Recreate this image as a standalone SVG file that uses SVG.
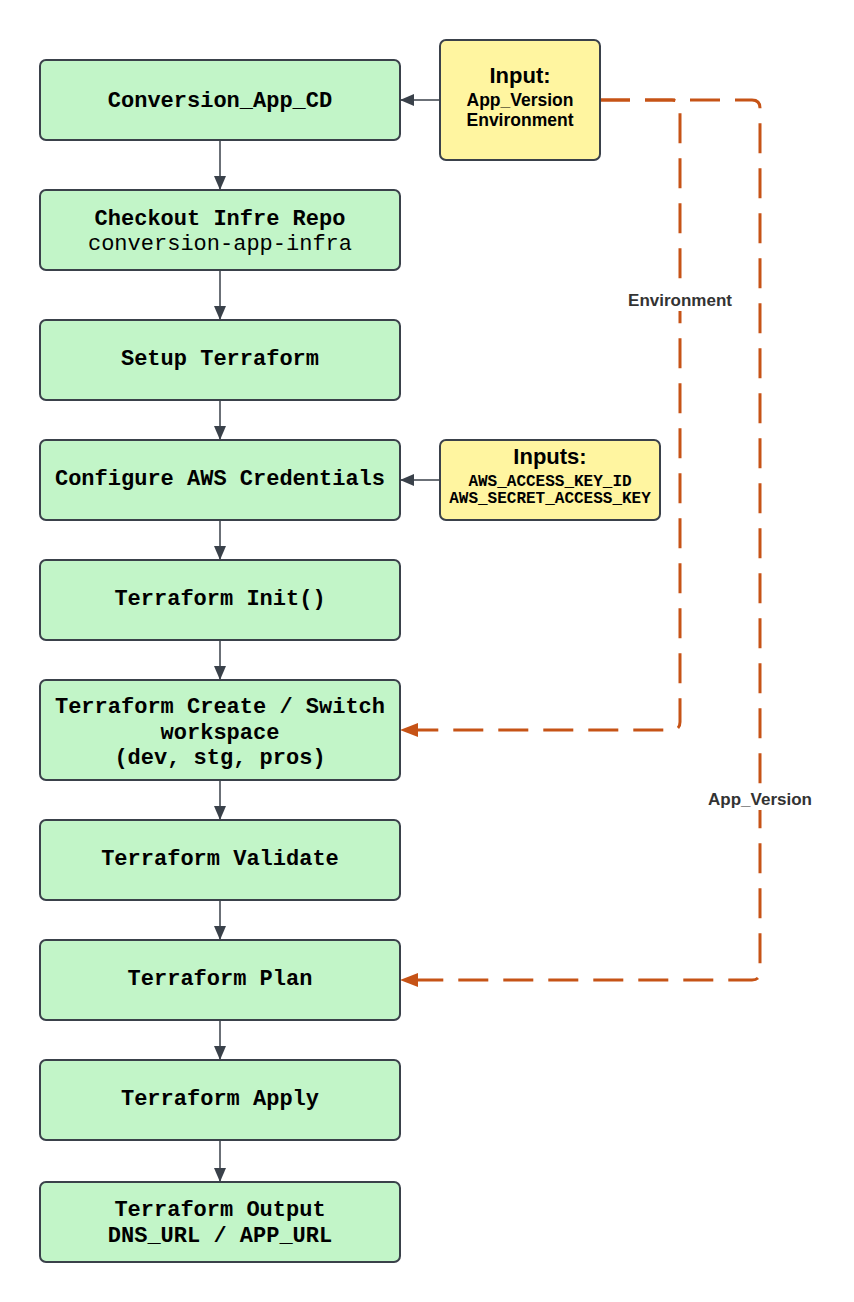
<svg xmlns="http://www.w3.org/2000/svg" width="854" height="1302" viewBox="0 0 854 1302">
<style>
.step rect{fill:#c2f5c8;stroke:#3a414a;stroke-width:2}
.inp rect{fill:#fff5a0;stroke:#3a414a;stroke-width:2}
.mono{font-family:"Liberation Mono","Courier New",monospace;font-size:22px;fill:#000;text-anchor:middle}
.small{font-size:16px}
.b{font-weight:bold}
.sans{font-family:"Liberation Sans",Arial,sans-serif;font-weight:bold;fill:#000;text-anchor:middle}
.solid{stroke:#3a414a;stroke-width:1.5;fill:none}
.dash{stroke:#c65316;stroke-width:3;fill:none;stroke-dasharray:30 15}
.lbl{font-family:"Liberation Sans",Arial,sans-serif;font-weight:bold;font-size:17px;fill:#333;text-anchor:middle}
</style>
<defs>
<marker id="ah" markerWidth="14" markerHeight="12" refX="13" refY="6" orient="auto" markerUnits="userSpaceOnUse">
<path d="M0,0 L14,6 L0,12 z" fill="#3a414a"/>
</marker>
<marker id="ahO" markerWidth="18" markerHeight="14" refX="17" refY="7" orient="auto" markerUnits="userSpaceOnUse">
<path d="M0,0 L18,7 L0,14 z" fill="#c65316"/>
</marker>
</defs>
<rect width="854" height="1302" fill="#fff"/>
<g id="connectors">
<path class="solid" d="M220,140 V189" marker-end="url(#ah)"/>
<path class="solid" d="M220,270 V319" marker-end="url(#ah)"/>
<path class="solid" d="M220,400 V439" marker-end="url(#ah)"/>
<path class="solid" d="M220,520 V559" marker-end="url(#ah)"/>
<path class="solid" d="M220,640 V679" marker-end="url(#ah)"/>
<path class="solid" d="M220,780 V819" marker-end="url(#ah)"/>
<path class="solid" d="M220,900 V939" marker-end="url(#ah)"/>
<path class="solid" d="M220,1020 V1059" marker-end="url(#ah)"/>
<path class="solid" d="M220,1140 V1181" marker-end="url(#ah)"/>
<path class="solid" d="M440,100 H401" marker-end="url(#ah)"/>
<path class="solid" d="M440,480 H401" marker-end="url(#ah)"/>
<path class="dash" d="M600,100 H672 Q680,100 680,108 V722 Q680,730 672,730 H401" marker-end="url(#ahO)"/>
<path class="dash" d="M600,100 H752 Q760,100 760,108 V972 Q760,980 752,980 H401" marker-end="url(#ahO)"/>
<rect x="624" y="289" width="112" height="22" fill="#fff"/>
<text class="lbl" x="680" y="306">Environment</text>
<rect x="704" y="788" width="112" height="22" fill="#fff"/>
<text class="lbl" x="760" y="805">App_Version</text>
</g>
<g id="n1" class="step"><rect x="40" y="60" width="360" height="80" rx="6"/><text class="mono b" x="220" y="107">Conversion_App_CD</text></g>
<g id="n2" class="step"><rect x="40" y="190" width="360" height="80" rx="6"/><text class="mono b" x="220" y="225">Checkout Infre Repo</text><text class="mono" x="220" y="250">conversion-app-infra</text></g>
<g id="n3" class="step"><rect x="40" y="320" width="360" height="80" rx="6"/><text class="mono b" x="220" y="365">Setup Terraform</text></g>
<g id="n4" class="step"><rect x="40" y="440" width="360" height="80" rx="6"/><text class="mono b" x="220" y="485">Configure AWS Credentials</text></g>
<g id="n5" class="step"><rect x="40" y="560" width="360" height="80" rx="6"/><text class="mono b" x="220" y="605">Terraform Init()</text></g>
<g id="n6" class="step"><rect x="40" y="680" width="360" height="100" rx="6"/><text class="mono b" x="220" y="713">Terraform Create / Switch</text><text class="mono b" x="220" y="739">workspace</text><text class="mono b" x="220" y="764">(dev, stg, pros)</text></g>
<g id="n7" class="step"><rect x="40" y="820" width="360" height="80" rx="6"/><text class="mono b" x="220" y="865">Terraform Validate</text></g>
<g id="n8" class="step"><rect x="40" y="940" width="360" height="80" rx="6"/><text class="mono b" x="220" y="985">Terraform Plan</text></g>
<g id="n9" class="step"><rect x="40" y="1060" width="360" height="80" rx="6"/><text class="mono b" x="220" y="1105">Terraform Apply</text></g>
<g id="n10" class="step"><rect x="40" y="1182" width="360" height="80" rx="6"/><text class="mono b" x="220" y="1216">Terraform Output</text><text class="mono b" x="220" y="1242">DNS_URL / APP_URL</text></g>
<g id="in1" class="inp"><rect x="440" y="40" width="160" height="120" rx="6"/><text class="sans" x="520" y="83" font-size="22">Input:</text><text class="sans" x="520" y="106" font-size="17.5">App_Version</text><text class="sans" x="520" y="126" font-size="17.5">Environment</text></g>
<g id="in2" class="inp"><rect x="440" y="440" width="220" height="80" rx="6"/><text class="sans" x="550" y="464" font-size="22">Inputs:</text><text class="mono b small" x="550" y="486">AWS_ACCESS_KEY_ID</text><text class="mono b small" x="550" y="503">AWS_SECRET_ACCESS_KEY</text></g>
</svg>
